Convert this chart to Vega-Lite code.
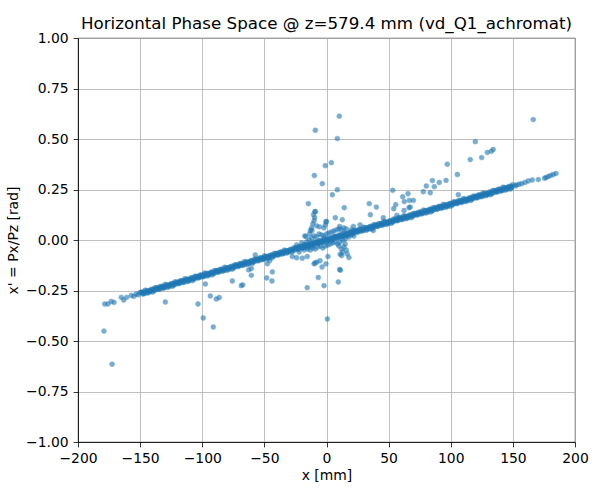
{
  "$schema": "https://vega.github.io/schema/vega-lite/v6.json",
  "autosize": "none",
  "width": 497,
  "height": 404,
  "padding": {"left": 78, "top": 38, "right": 25, "bottom": 58},
  "background": "white",
  "title": {
    "text": "Horizontal Phase Space @ z=579.4 mm (vd_Q1_achromat)",
    "font": "DejaVu Sans",
    "fontSize": 16.7,
    "fontWeight": "normal",
    "color": "black",
    "anchor": "middle",
    "offset": 2,
    "dy": 4
  },
  "config": {
    "view": {"stroke": "black", "strokeWidth": 0.8},
    "axis": {
      "labelFont": "DejaVu Sans",
      "titleFont": "DejaVu Sans",
      "labelFontSize": 13.9,
      "titleFontSize": 13.9,
      "titleFontWeight": "normal",
      "labelColor": "black",
      "titleColor": "black",
      "domainColor": "black",
      "domainWidth": 0.8,
      "tickColor": "black",
      "tickWidth": 0.8,
      "tickSize": 4.9,
      "labelPadding": 4.9,
      "labelFlush": false,
      "labelOverlap": false,
      "gridColor": "#b0b0b0",
      "gridWidth": 0.8,
      "gridOpacity": 1
    }
  },
  "data": {
    "values": [
      {"x": -150, "y": -0.2595}, {"x": -148, "y": -0.267}, {"x": -146, "y": -0.2484}, {"x": -144, "y": -0.2629},
      {"x": -142, "y": -0.2493}, {"x": -140, "y": -0.2578}, {"x": -138, "y": -0.2363}, {"x": -136, "y": -0.2427},
      {"x": -134, "y": -0.2312}, {"x": -132, "y": -0.2386}, {"x": -130, "y": -0.2201}, {"x": -128, "y": -0.2346},
      {"x": -126, "y": -0.221}, {"x": -124, "y": -0.2295}, {"x": -122, "y": -0.2079}, {"x": -120, "y": -0.2144},
      {"x": -118, "y": -0.2029}, {"x": -116, "y": -0.2103}, {"x": -114, "y": -0.1918}, {"x": -112, "y": -0.2062},
      {"x": -110, "y": -0.1927}, {"x": -108, "y": -0.2012}, {"x": -106, "y": -0.1796}, {"x": -104, "y": -0.1861},
      {"x": -102, "y": -0.1745}, {"x": -100, "y": -0.182}, {"x": -98, "y": -0.1635}, {"x": -96, "y": -0.1779},
      {"x": -94, "y": -0.1644}, {"x": -92, "y": -0.1728}, {"x": -90, "y": -0.1513}, {"x": -88, "y": -0.1578},
      {"x": -86, "y": -0.1462}, {"x": -84, "y": -0.1537}, {"x": -82, "y": -0.1351}, {"x": -80, "y": -0.1496},
      {"x": -78, "y": -0.1361}, {"x": -76, "y": -0.1445}, {"x": -74, "y": -0.123}, {"x": -72, "y": -0.1294},
      {"x": -70, "y": -0.1179}, {"x": -68, "y": -0.1254}, {"x": -66, "y": -0.1068}, {"x": -64, "y": -0.1213},
      {"x": -62, "y": -0.1077}, {"x": -60, "y": -0.1162}, {"x": -58, "y": -0.0947}, {"x": -56, "y": -0.1011},
      {"x": -54, "y": -0.0896}, {"x": -52, "y": -0.097}, {"x": -50, "y": -0.0785}, {"x": -48, "y": -0.093},
      {"x": -46, "y": -0.0794}, {"x": -44, "y": -0.0879}, {"x": -42, "y": -0.0663}, {"x": -40, "y": -0.0728},
      {"x": -38, "y": -0.0613}, {"x": -36, "y": -0.0687}, {"x": -34, "y": -0.0502}, {"x": -32, "y": -0.0646},
      {"x": -30, "y": -0.0511}, {"x": -28, "y": -0.0596}, {"x": -26, "y": -0.038}, {"x": -24, "y": -0.0445},
      {"x": -22, "y": -0.0329}, {"x": -20, "y": -0.0404}, {"x": -18, "y": -0.0219}, {"x": -16, "y": -0.0363},
      {"x": -14, "y": -0.0228}, {"x": -12, "y": -0.0312}, {"x": -10, "y": -0.0097}, {"x": -8, "y": -0.0162},
      {"x": -6, "y": -0.0046}, {"x": -4, "y": -0.0121}, {"x": -2, "y": 0.0065}, {"x": 0, "y": -0.008},
      {"x": 2, "y": 0.0055}, {"x": 4, "y": -0.0029}, {"x": 6, "y": 0.0186}, {"x": 8, "y": 0.0122},
      {"x": 10, "y": 0.0237}, {"x": 12, "y": 0.0162}, {"x": 14, "y": 0.0348}, {"x": 16, "y": 0.0203},
      {"x": 18, "y": 0.0339}, {"x": 20, "y": 0.0254}, {"x": 22, "y": 0.0469}, {"x": 24, "y": 0.0405},
      {"x": 26, "y": 0.052}, {"x": 28, "y": 0.0446}, {"x": 30, "y": 0.0631}, {"x": 32, "y": 0.0486},
      {"x": 34, "y": 0.0622}, {"x": 36, "y": 0.0537}, {"x": 38, "y": 0.0753}, {"x": 40, "y": 0.0688},
      {"x": 42, "y": 0.0803}, {"x": 44, "y": 0.0729}, {"x": 46, "y": 0.0914}, {"x": 48, "y": 0.077},
      {"x": 50, "y": 0.0905}, {"x": 52, "y": 0.082}, {"x": 54, "y": 0.1036}, {"x": 56, "y": 0.0971},
      {"x": 58, "y": 0.1087}, {"x": 60, "y": 0.1012}, {"x": 62, "y": 0.1197}, {"x": 64, "y": 0.1053},
      {"x": 66, "y": 0.1188}, {"x": 68, "y": 0.1104}, {"x": 70, "y": 0.1319}, {"x": 72, "y": 0.1254},
      {"x": 74, "y": 0.137}, {"x": 76, "y": 0.1295}, {"x": 78, "y": 0.1481}, {"x": 80, "y": 0.1336},
      {"x": 82, "y": 0.1471}, {"x": 84, "y": 0.1387}, {"x": 86, "y": 0.1602}, {"x": 88, "y": 0.1538},
      {"x": 90, "y": 0.1653}, {"x": 92, "y": 0.1578}, {"x": 94, "y": 0.1764}, {"x": 96, "y": 0.1619},
      {"x": 98, "y": 0.1755}, {"x": 100, "y": 0.167}, {"x": 102, "y": 0.1885}, {"x": 104, "y": 0.1821},
      {"x": 106, "y": 0.1936}, {"x": 108, "y": 0.1862}, {"x": 110, "y": 0.2047}, {"x": 112, "y": 0.1902},
      {"x": 114, "y": 0.2038}, {"x": 116, "y": 0.1953}, {"x": 118, "y": 0.2169}, {"x": 120, "y": 0.2104},
      {"x": 122, "y": 0.2219}, {"x": 124, "y": 0.2145}, {"x": 126, "y": 0.233}, {"x": 128, "y": 0.2186},
      {"x": 130, "y": 0.2321}, {"x": 132, "y": 0.2236}, {"x": 134, "y": 0.2452}, {"x": 136, "y": 0.2387},
      {"x": 138, "y": 0.2503}, {"x": 140, "y": 0.2428}, {"x": 142, "y": 0.2613}, {"x": 144, "y": 0.2469},
      {"x": 146, "y": 0.2604}, {"x": 148, "y": 0.252}, {"x": 150, "y": 0.2735},

      {"x": -147, "y": -0.2602}, {"x": -143, "y": -0.2531}, {"x": -139, "y": -0.246}, {"x": -135, "y": -0.239},
      {"x": -131, "y": -0.2319}, {"x": -127, "y": -0.2248}, {"x": -123, "y": -0.2177}, {"x": -119, "y": -0.2106},
      {"x": -115, "y": -0.2036}, {"x": -111, "y": -0.1965}, {"x": -107, "y": -0.1894}, {"x": -103, "y": -0.1823},
      {"x": -99, "y": -0.1752}, {"x": -95, "y": -0.1682}, {"x": -91, "y": -0.1611}, {"x": -87, "y": -0.154},
      {"x": -83, "y": -0.1469}, {"x": -79, "y": -0.1398}, {"x": -75, "y": -0.1328}, {"x": -71, "y": -0.1257},
      {"x": -67, "y": -0.1186}, {"x": -63, "y": -0.1115}, {"x": -59, "y": -0.1044}, {"x": -55, "y": -0.0974},
      {"x": -51, "y": -0.0903}, {"x": -47, "y": -0.0832}, {"x": -43, "y": -0.0761}, {"x": -39, "y": -0.069},
      {"x": -35, "y": -0.062}, {"x": -31, "y": -0.0549}, {"x": -27, "y": -0.0478}, {"x": -23, "y": -0.0407},
      {"x": -19, "y": -0.0336}, {"x": -15, "y": -0.0266}, {"x": -11, "y": -0.0195}, {"x": -7, "y": -0.0124},
      {"x": -3, "y": -0.0053}, {"x": 1, "y": 0.0018}, {"x": 5, "y": 0.0089}, {"x": 9, "y": 0.0159},
      {"x": 13, "y": 0.023}, {"x": 17, "y": 0.0301}, {"x": 21, "y": 0.0372}, {"x": 25, "y": 0.0443},
      {"x": 29, "y": 0.0513}, {"x": 33, "y": 0.0584}, {"x": 37, "y": 0.0655}, {"x": 41, "y": 0.0726},
      {"x": 45, "y": 0.0797}, {"x": 49, "y": 0.0867}, {"x": 53, "y": 0.0938}, {"x": 57, "y": 0.1009},
      {"x": 61, "y": 0.108}, {"x": 65, "y": 0.1151}, {"x": 69, "y": 0.1221}, {"x": 73, "y": 0.1292},
      {"x": 77, "y": 0.1363}, {"x": 81, "y": 0.1434}, {"x": 85, "y": 0.1505}, {"x": 89, "y": 0.1575},
      {"x": 93, "y": 0.1646}, {"x": 97, "y": 0.1717}, {"x": 101, "y": 0.1788}, {"x": 105, "y": 0.1859},
      {"x": 109, "y": 0.1929}, {"x": 113, "y": 0.2}, {"x": 117, "y": 0.2071}, {"x": 121, "y": 0.2142},
      {"x": 125, "y": 0.2213}, {"x": 129, "y": 0.2283}, {"x": 133, "y": 0.2354}, {"x": 137, "y": 0.2425},
      {"x": 141, "y": 0.2496}, {"x": 145, "y": 0.2567}, {"x": 149, "y": 0.2637},

      {"x": -149, "y": -0.2587}, {"x": -145, "y": -0.2517}, {"x": -141, "y": -0.2446}, {"x": -137, "y": -0.2375},
      {"x": -133, "y": -0.2304}, {"x": -129, "y": -0.2233}, {"x": -125, "y": -0.2163}, {"x": -121, "y": -0.2092},
      {"x": -117, "y": -0.2021}, {"x": -113, "y": -0.195}, {"x": -109, "y": -0.1879}, {"x": -105, "y": -0.1809},
      {"x": -101, "y": -0.1738}, {"x": -97, "y": -0.1667}, {"x": -93, "y": -0.1596}, {"x": -89, "y": -0.1525},
      {"x": -85, "y": -0.1455}, {"x": -81, "y": -0.1384}, {"x": -77, "y": -0.1313}, {"x": -73, "y": -0.1242},
      {"x": -69, "y": -0.1171}, {"x": -65, "y": -0.1101}, {"x": -61, "y": -0.103}, {"x": -57, "y": -0.0959},
      {"x": -53, "y": -0.0888}, {"x": -49, "y": -0.0817}, {"x": -45, "y": -0.0747}, {"x": -41, "y": -0.0676},
      {"x": -37, "y": -0.0605}, {"x": -33, "y": -0.0534}, {"x": -29, "y": -0.0463}, {"x": -25, "y": -0.0393},
      {"x": -21, "y": -0.0322}, {"x": -17, "y": -0.0251}, {"x": -13, "y": -0.018}, {"x": -9, "y": -0.0109},
      {"x": -5, "y": -0.0039}, {"x": -1, "y": 0.0032}, {"x": 3, "y": 0.0103}, {"x": 7, "y": 0.0174},
      {"x": 11, "y": 0.0245}, {"x": 15, "y": 0.0316}, {"x": 19, "y": 0.0386}, {"x": 23, "y": 0.0457},
      {"x": 27, "y": 0.0528}, {"x": 31, "y": 0.0599}, {"x": 35, "y": 0.067}, {"x": 39, "y": 0.074},
      {"x": 43, "y": 0.0811}, {"x": 47, "y": 0.0882}, {"x": 51, "y": 0.0953}, {"x": 55, "y": 0.1024},
      {"x": 59, "y": 0.1094}, {"x": 63, "y": 0.1165}, {"x": 67, "y": 0.1236}, {"x": 71, "y": 0.1307},
      {"x": 75, "y": 0.1378}, {"x": 79, "y": 0.1448}, {"x": 83, "y": 0.1519}, {"x": 87, "y": 0.159},
      {"x": 91, "y": 0.1661}, {"x": 95, "y": 0.1732}, {"x": 99, "y": 0.1802}, {"x": 103, "y": 0.1873},
      {"x": 107, "y": 0.1944}, {"x": 111, "y": 0.2015}, {"x": 115, "y": 0.2086}, {"x": 119, "y": 0.2156},
      {"x": 123, "y": 0.2227}, {"x": 127, "y": 0.2298}, {"x": 131, "y": 0.2369}, {"x": 135, "y": 0.244},
      {"x": 139, "y": 0.251}, {"x": 143, "y": 0.2581}, {"x": 147, "y": 0.2652},

      {"x": -146, "y": -0.2624}, {"x": -142, "y": -0.2553}, {"x": -138, "y": -0.2483}, {"x": -134, "y": -0.2412},
      {"x": -130, "y": -0.2341}, {"x": -126, "y": -0.227}, {"x": -122, "y": -0.2199}, {"x": -118, "y": -0.2129},
      {"x": -114, "y": -0.2058}, {"x": -110, "y": -0.1987}, {"x": -106, "y": -0.1916}, {"x": -102, "y": -0.1845},
      {"x": -98, "y": -0.1775}, {"x": -94, "y": -0.1704}, {"x": -90, "y": -0.1633}, {"x": -86, "y": -0.1562},
      {"x": -82, "y": -0.1491}, {"x": -78, "y": -0.1421}, {"x": -74, "y": -0.135}, {"x": -70, "y": -0.1279},
      {"x": -66, "y": -0.1208}, {"x": -62, "y": -0.1137}, {"x": -58, "y": -0.1067}, {"x": -54, "y": -0.0996},
      {"x": -50, "y": -0.0925}, {"x": -46, "y": -0.0854}, {"x": -42, "y": -0.0783}, {"x": -38, "y": -0.0713},
      {"x": -34, "y": -0.0642}, {"x": -30, "y": -0.0571}, {"x": -26, "y": -0.05}, {"x": -22, "y": -0.0429},
      {"x": -18, "y": -0.0359}, {"x": -14, "y": -0.0288}, {"x": -10, "y": -0.0217}, {"x": -6, "y": -0.0146},
      {"x": -2, "y": -0.0075}, {"x": 2, "y": -0.0005}, {"x": 6, "y": 0.0066}, {"x": 10, "y": 0.0137},
      {"x": 14, "y": 0.0208}, {"x": 18, "y": 0.0279}, {"x": 22, "y": 0.0349}, {"x": 26, "y": 0.042},
      {"x": 30, "y": 0.0491}, {"x": 34, "y": 0.0562}, {"x": 38, "y": 0.0633}, {"x": 42, "y": 0.0703},
      {"x": 46, "y": 0.0774}, {"x": 50, "y": 0.0845}, {"x": 54, "y": 0.0916}, {"x": 58, "y": 0.0987},
      {"x": 62, "y": 0.1057}, {"x": 66, "y": 0.1128}, {"x": 70, "y": 0.1199}, {"x": 74, "y": 0.127},
      {"x": 78, "y": 0.1341}, {"x": 82, "y": 0.1411}, {"x": 86, "y": 0.1482}, {"x": 90, "y": 0.1553},
      {"x": 94, "y": 0.1624}, {"x": 98, "y": 0.1695}, {"x": 102, "y": 0.1765}, {"x": 106, "y": 0.1836},
      {"x": 110, "y": 0.1907}, {"x": 114, "y": 0.1978}, {"x": 118, "y": 0.2049}, {"x": 122, "y": 0.2119},
      {"x": 126, "y": 0.219}, {"x": 130, "y": 0.2261}, {"x": 134, "y": 0.2332}, {"x": 138, "y": 0.2403},
      {"x": 142, "y": 0.2473}, {"x": 146, "y": 0.2544},

      {"x": -148, "y": -0.258}, {"x": -144, "y": -0.2509}, {"x": -140, "y": -0.2438}, {"x": -136, "y": -0.2367},
      {"x": -132, "y": -0.2296}, {"x": -128, "y": -0.2226}, {"x": -124, "y": -0.2155}, {"x": -120, "y": -0.2084},
      {"x": -116, "y": -0.2013}, {"x": -112, "y": -0.1942}, {"x": -108, "y": -0.1872}, {"x": -104, "y": -0.1801},
      {"x": -100, "y": -0.173}, {"x": -96, "y": -0.1659}, {"x": -92, "y": -0.1588}, {"x": -88, "y": -0.1518},
      {"x": -84, "y": -0.1447}, {"x": -80, "y": -0.1376}, {"x": -76, "y": -0.1305}, {"x": -72, "y": -0.1234},
      {"x": -68, "y": -0.1164}, {"x": -64, "y": -0.1093}, {"x": -60, "y": -0.1022}, {"x": -56, "y": -0.0951},
      {"x": -52, "y": -0.088}, {"x": -48, "y": -0.081}, {"x": -44, "y": -0.0739}, {"x": -40, "y": -0.0668},
      {"x": -36, "y": -0.0597}, {"x": -32, "y": -0.0526}, {"x": -28, "y": -0.0456}, {"x": -24, "y": -0.0385},
      {"x": -20, "y": -0.0314}, {"x": -16, "y": -0.0243}, {"x": -12, "y": -0.0172}, {"x": -8, "y": -0.0102},
      {"x": -4, "y": -0.0031}, {"x": 0, "y": 0.004}, {"x": 4, "y": 0.0111}, {"x": 8, "y": 0.0182},
      {"x": 12, "y": 0.0252}, {"x": 16, "y": 0.0323}, {"x": 20, "y": 0.0394}, {"x": 24, "y": 0.0465},
      {"x": 28, "y": 0.0536}, {"x": 32, "y": 0.0606}, {"x": 36, "y": 0.0677}, {"x": 40, "y": 0.0748},
      {"x": 44, "y": 0.0819}, {"x": 48, "y": 0.089}, {"x": 52, "y": 0.096}, {"x": 56, "y": 0.1031},
      {"x": 60, "y": 0.1102}, {"x": 64, "y": 0.1173}, {"x": 68, "y": 0.1244}, {"x": 72, "y": 0.1314},
      {"x": 76, "y": 0.1385}, {"x": 80, "y": 0.1456}, {"x": 84, "y": 0.1527}, {"x": 88, "y": 0.1598},
      {"x": 92, "y": 0.1668}, {"x": 96, "y": 0.1739}, {"x": 100, "y": 0.181}, {"x": 104, "y": 0.1881},
      {"x": 108, "y": 0.1952}, {"x": 112, "y": 0.2022}, {"x": 116, "y": 0.2093}, {"x": 120, "y": 0.2164},
      {"x": 124, "y": 0.2235}, {"x": 128, "y": 0.2306}, {"x": 132, "y": 0.2376}, {"x": 136, "y": 0.2447},
      {"x": 140, "y": 0.2518}, {"x": 144, "y": 0.2589}, {"x": 148, "y": 0.266},

      {"x": -147, "y": -0.2662}, {"x": -143, "y": -0.2591}, {"x": -139, "y": -0.252}, {"x": -135, "y": -0.245},
      {"x": -131, "y": -0.2379}, {"x": -127, "y": -0.2308}, {"x": -123, "y": -0.2237}, {"x": -119, "y": -0.2166},
      {"x": -115, "y": -0.2096}, {"x": -111, "y": -0.2025}, {"x": -107, "y": -0.1954}, {"x": -103, "y": -0.1883},
      {"x": -99, "y": -0.1812}, {"x": -95, "y": -0.1742}, {"x": -91, "y": -0.1671}, {"x": -87, "y": -0.16},
      {"x": -83, "y": -0.1529}, {"x": -79, "y": -0.1458}, {"x": -75, "y": -0.1388}, {"x": -71, "y": -0.1317},
      {"x": -67, "y": -0.1246}, {"x": -63, "y": -0.1175}, {"x": -59, "y": -0.1104}, {"x": -55, "y": -0.1034},
      {"x": -51, "y": -0.0963}, {"x": -47, "y": -0.0892}, {"x": -43, "y": -0.0821}, {"x": -39, "y": -0.075},
      {"x": -35, "y": -0.068}, {"x": -31, "y": -0.0609}, {"x": -27, "y": -0.0538}, {"x": -23, "y": -0.0467},
      {"x": -19, "y": -0.0396}, {"x": -15, "y": -0.0326}, {"x": -11, "y": -0.0255}, {"x": -7, "y": -0.0184},
      {"x": -3, "y": -0.0113}, {"x": 1, "y": -0.0042}, {"x": 5, "y": 0.0029}, {"x": 9, "y": 0.0099},
      {"x": 13, "y": 0.017}, {"x": 17, "y": 0.0241}, {"x": 21, "y": 0.0312}, {"x": 25, "y": 0.0383},
      {"x": 29, "y": 0.0453}, {"x": 33, "y": 0.0524}, {"x": 37, "y": 0.0595}, {"x": 41, "y": 0.0666},
      {"x": 45, "y": 0.0737}, {"x": 49, "y": 0.0807}, {"x": 53, "y": 0.0878}, {"x": 57, "y": 0.0949},
      {"x": 61, "y": 0.102}, {"x": 65, "y": 0.1091}, {"x": 69, "y": 0.1161}, {"x": 73, "y": 0.1232},
      {"x": 77, "y": 0.1303}, {"x": 81, "y": 0.1374}, {"x": 85, "y": 0.1445}, {"x": 89, "y": 0.1515},
      {"x": 93, "y": 0.1586}, {"x": 97, "y": 0.1657}, {"x": 101, "y": 0.1728}, {"x": 105, "y": 0.1799},
      {"x": 109, "y": 0.1869}, {"x": 113, "y": 0.194}, {"x": 117, "y": 0.2011}, {"x": 121, "y": 0.2082},
      {"x": 125, "y": 0.2153}, {"x": 129, "y": 0.2223}, {"x": 133, "y": 0.2294}, {"x": 137, "y": 0.2365},
      {"x": 141, "y": 0.2436}, {"x": 145, "y": 0.2507}, {"x": 149, "y": 0.2577},

      {"x": -178.5, "y": -0.317}, {"x": -175.9, "y": -0.317}, {"x": -173.2, "y": -0.304}, {"x": -171, "y": -0.309},
      {"x": -165.2, "y": -0.284}, {"x": -163.2, "y": -0.297}, {"x": -160.8, "y": -0.284}, {"x": -157.1, "y": -0.275},
      {"x": -155, "y": -0.279}, {"x": -153.1, "y": -0.267}, {"x": -151.5, "y": -0.271},
      {"x": 152, "y": 0.268}, {"x": 153, "y": 0.272}, {"x": 155, "y": 0.276}, {"x": 157.1, "y": 0.279},
      {"x": 159.8, "y": 0.285}, {"x": 162.4, "y": 0.292}, {"x": 165.6, "y": 0.297}, {"x": 170.5, "y": 0.299},
      {"x": 175.5, "y": 0.306}, {"x": 176.7, "y": 0.309}, {"x": 178.5, "y": 0.314}, {"x": 180.4, "y": 0.319},
      {"x": 182.5, "y": 0.324}, {"x": 184.7, "y": 0.329},

      {"x": -20, "y": -0.015}, {"x": -18, "y": -0.05}, {"x": -16, "y": -0.01}, {"x": -15, "y": -0.045},
      {"x": -14, "y": 0.0}, {"x": -13, "y": -0.05}, {"x": -12, "y": 0.01}, {"x": -11, "y": -0.04},
      {"x": -10, "y": 0.02}, {"x": -9, "y": -0.045}, {"x": -8, "y": 0.015}, {"x": -7, "y": -0.035},
      {"x": -6, "y": 0.03}, {"x": -5, "y": -0.03}, {"x": -4, "y": 0.025}, {"x": -3, "y": -0.04},
      {"x": -2, "y": 0.02}, {"x": -1, "y": -0.03}, {"x": 0, "y": 0.03}, {"x": 1, "y": -0.025},
      {"x": 2, "y": 0.035}, {"x": 3, "y": -0.02}, {"x": 4, "y": 0.04}, {"x": 5, "y": -0.015},
      {"x": 6, "y": 0.045}, {"x": 7, "y": -0.01}, {"x": 8, "y": 0.05}, {"x": 9, "y": -0.02},
      {"x": 10, "y": 0.055}, {"x": 11, "y": -0.01}, {"x": 12, "y": 0.05}, {"x": 13, "y": 0.0},
      {"x": 14, "y": 0.06}, {"x": 15, "y": 0.005}, {"x": 16, "y": 0.055}, {"x": 18, "y": 0.015},
      {"x": 20, "y": 0.05}, {"x": 22, "y": 0.02}, {"x": -22, "y": -0.06}, {"x": -24, "y": -0.025},
      {"x": 10, "y": -0.03}, {"x": 12, "y": -0.045}, {"x": 13, "y": -0.06}, {"x": 14, "y": -0.035},
      {"x": 16, "y": -0.05}, {"x": 11, "y": -0.07}, {"x": 15, "y": -0.02},
      {"x": -11, "y": 0.08}, {"x": -10, "y": 0.095}, {"x": -9.5, "y": 0.11}, {"x": -10.5, "y": 0.125},
      {"x": -9, "y": 0.14}, {"x": -12, "y": 0.06}, {"x": -8, "y": 0.07}, {"x": -11.7, "y": 0.047},
      {"x": -1, "y": 0.075}, {"x": 0, "y": 0.09}, {"x": -0.4, "y": 0.092}, {"x": -2, "y": 0.06},

      {"x": 10.3, "y": 0.613}, {"x": -9.0, "y": 0.543}, {"x": 8.7, "y": 0.502}, {"x": 3.9, "y": 0.383},
      {"x": -1, "y": 0.368}, {"x": -9.8, "y": 0.319}, {"x": -3.4, "y": 0.279}, {"x": 8.7, "y": 0.249},
      {"x": 4.7, "y": 0.224}, {"x": -14.6, "y": 0.18}, {"x": 14.3, "y": 0.16}, {"x": -9.3, "y": 0.141},
      {"x": 7.1, "y": 0.11}, {"x": 12.7, "y": 0.1}, {"x": 10.6, "y": 0.067}, {"x": -5.6, "y": 0.065},
      {"x": -16.5, "y": 0.017}, {"x": -17.5, "y": 0.02}, {"x": -13.5, "y": 0.031}, {"x": -13, "y": 0.047},
      {"x": -27.5, "y": -0.082}, {"x": -24, "y": -0.088}, {"x": -19.5, "y": -0.09}, {"x": -15.5, "y": -0.082},
      {"x": -15.5, "y": -0.236}, {"x": -6.6, "y": -0.186}, {"x": -2, "y": -0.226}, {"x": 0.7, "y": -0.391},
      {"x": 9.5, "y": -0.208}, {"x": 10.6, "y": -0.146}, {"x": 11.2, "y": -0.15}, {"x": -3.6, "y": -0.134},
      {"x": -9.3, "y": -0.114}, {"x": -7.9, "y": -0.11}, {"x": -5.2, "y": -0.103}, {"x": -0.4, "y": -0.118},
      {"x": 1.2, "y": -0.082}, {"x": 18.1, "y": -0.087}, {"x": 16.7, "y": -0.069}, {"x": 12.2, "y": -0.077},
      {"x": -10, "y": -0.118},
      {"x": -179.1, "y": -0.451}, {"x": -172.6, "y": -0.615}, {"x": -129.7, "y": -0.307}, {"x": -103.4, "y": -0.317},
      {"x": -99.2, "y": -0.386}, {"x": -93.5, "y": -0.277}, {"x": -88.7, "y": -0.292}, {"x": -86.3, "y": -0.285},
      {"x": -91.1, "y": -0.431}, {"x": -97.5, "y": -0.218}, {"x": -75.8, "y": -0.203}, {"x": -68.6, "y": -0.226},
      {"x": -67.4, "y": -0.222}, {"x": -62.6, "y": -0.148}, {"x": -60.5, "y": -0.175}, {"x": -57.3, "y": -0.074},
      {"x": -48.1, "y": -0.188}, {"x": -43.9, "y": -0.203}, {"x": -43.6, "y": -0.158}, {"x": -47.6, "y": -0.118},
      {"x": -60.5, "y": -0.141}, {"x": -45.7, "y": -0.102},
      {"x": 34.4, "y": 0.18}, {"x": 40.1, "y": 0.163}, {"x": 35.3, "y": 0.125}, {"x": 45.7, "y": 0.11},
      {"x": 27, "y": 0.075}, {"x": 21.6, "y": 0.067}, {"x": 37.7, "y": 0.047}, {"x": 53.3, "y": 0.246},
      {"x": 61.3, "y": 0.214}, {"x": 65.6, "y": 0.229}, {"x": 66.6, "y": 0.196}, {"x": 69.9, "y": 0.196},
      {"x": 62.4, "y": 0.146}, {"x": 66.4, "y": 0.16}, {"x": 67.4, "y": 0.163}, {"x": 62.6, "y": 0.19},
      {"x": 55.7, "y": 0.175}, {"x": 54.1, "y": 0.155}, {"x": 56.7, "y": 0.122},
      {"x": 77.9, "y": 0.239}, {"x": 80.3, "y": 0.267}, {"x": 85.2, "y": 0.294}, {"x": 86.8, "y": 0.264},
      {"x": 90.8, "y": 0.285}, {"x": 83.5, "y": 0.234}, {"x": 96.2, "y": 0.295}, {"x": 97.2, "y": 0.375},
      {"x": 166.4, "y": 0.596}, {"x": 119.8, "y": 0.487}, {"x": 115.7, "y": 0.398}, {"x": 124.9, "y": 0.408},
      {"x": 129.4, "y": 0.433}, {"x": 132.6, "y": 0.439}, {"x": 134.2, "y": 0.448}, {"x": 105.3, "y": 0.324},
      {"x": 106.1, "y": 0.224}
    ]
  },
  "mark": {"type": "circle", "size": 24, "color": "#1f77b4", "opacity": 0.6, "stroke": "#1f77b4", "strokeWidth": 0.6},
  "encoding": {
    "x": {
      "field": "x",
      "type": "quantitative",
      "title": "x [mm]",
      "scale": {"domain": [-200, 200], "nice": false, "zero": false},
      "axis": {"values": [-200, -150, -100, -50, 0, 50, 100, 150, 200], "format": "d", "titlePadding": 3}
    },
    "y": {
      "field": "y",
      "type": "quantitative",
      "title": "x' = Px/Pz [rad]",
      "scale": {"domain": [-1, 1], "nice": false, "zero": false},
      "axis": {"values": [-1, -0.75, -0.5, -0.25, 0, 0.25, 0.5, 0.75, 1], "format": ".2f", "titlePadding": 5}
    }
  }
}
